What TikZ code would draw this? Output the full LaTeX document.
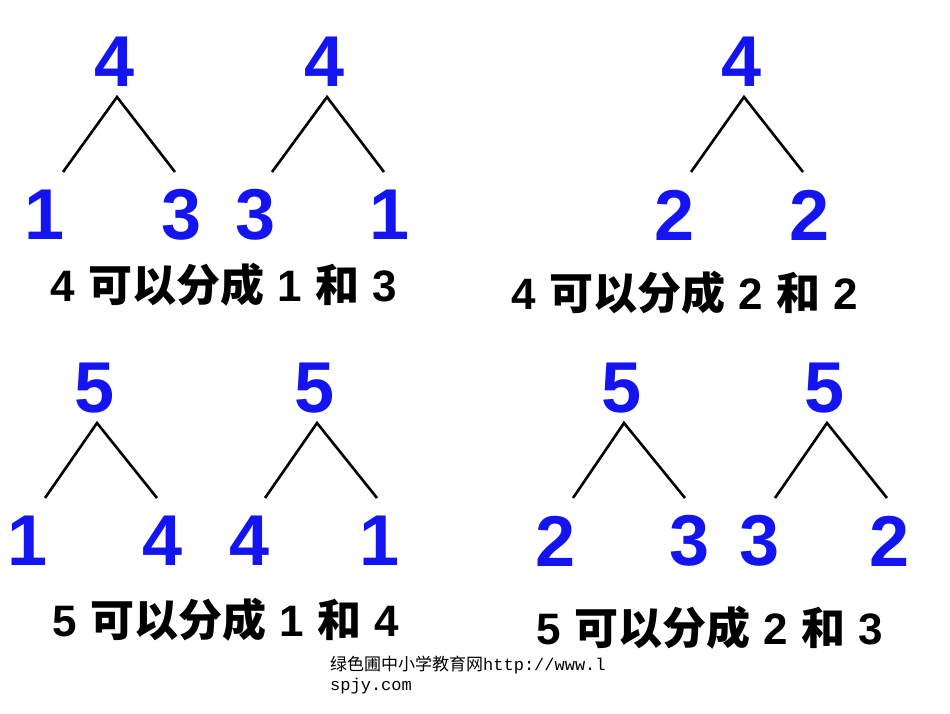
\documentclass[tikz,border=0pt]{standalone}
\usepackage{fontspec}
\setmainfont{Liberation Sans}
\newfontfamily\cjk{Noto Sans CJK SC}
\newfontfamily\wm{Liberation Mono}
\definecolor{numblue}{RGB}{20,20,240}
\begin{document}
\begin{tikzpicture}[x=1pt,y=-1pt,
  num/.style={text=numblue,font=\fontsize{72}{72}\selectfont\bfseries,inner sep=0},
  captext/.style={font=\fontsize{44}{44}\selectfont\bfseries,inner sep=0},
  br/.style={line width=2.6pt,black}]
\fill[white] (0,0) rectangle (950,713);
\newcommand\tree[9]{%
  \node[num] (#1r) at (#2,62+#9) {#3};
  \node[num] (#1a) at (#4,215+#9) {#5};
  \node[num] (#1b) at (#6,215+#9) {#7};
  \coordinate (#1p) at (#2+2,97+#9);
  \coordinate (#1l) at (#8-54,172+#9);
  \coordinate (#1q) at (#8+58,172+#9);
  \draw[br] (#1l) -- (#1p) -- (#1q);}
\newcommand\capline[3]{#1\hspace{0.3em}{\cjk\bfseries 可以分成}\hspace{0.3em}#2\hspace{0.3em}{\cjk\bfseries 和}\hspace{0.3em}#3}
\tree{A}{115}{4}{45}{1}{182}{3}{117}{0}
\tree{B}{325}{4}{256}{3}{390}{1}{326}{0}
\tree{C}{742}{4}{675}{2}{810}{2}{745}{0}
\tree{D}{95}{5}{28}{1}{163}{4}{99}{326}
\tree{E}{315}{5}{250}{4}{380}{1}{319}{326}
\tree{F}{622}{5}{556}{2}{690}{3}{627}{326}
\tree{G}{825}{5}{760}{3}{890}{2}{829}{326}
\node[captext] (s1) at (224,285) {\capline{4}{1}{3}};
\node[captext] (s2) at (685,293) {\capline{4}{2}{2}};
\node[captext] (s3) at (226,620) {\capline{5}{1}{4}};
\node[captext] (s4) at (710,628) {\capline{5}{2}{3}};
\node[anchor=west,inner sep=0,font=\fontsize{17}{17}\selectfont] (w1) at (330,665) {{\cjk 绿色圃中小学教育网}{\wm http://www.l}};
\node[anchor=west,inner sep=0,font=\fontsize{17}{17}\selectfont\wm] (w2) at (330,686) {spjy.com};
\end{tikzpicture}
\end{document}
